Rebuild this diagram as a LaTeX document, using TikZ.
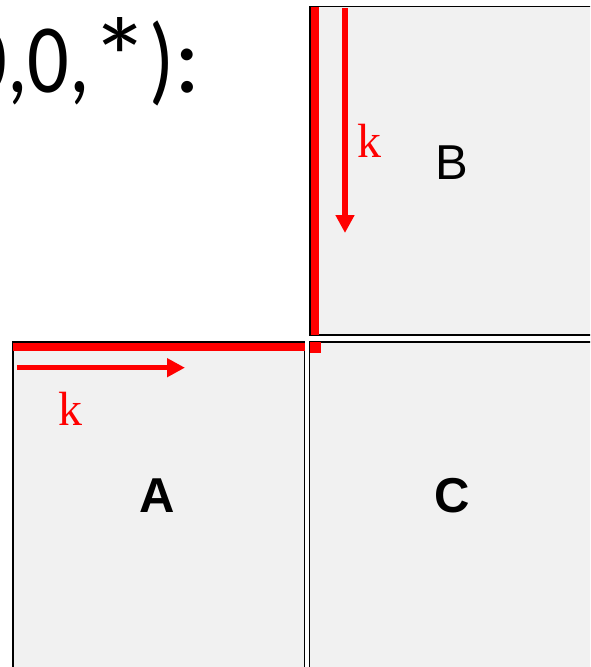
\documentclass[tikz,border=0pt]{standalone}
\usepackage{fontspec}
\setmainfont{Liberation Sans}
\newfontfamily\titlefont{Carlito}
\newfontfamily\kfont{Liberation Serif}
\usetikzlibrary{arrows.meta}
\definecolor{boxfill}{RGB}{241,241,241}
\definecolor{kred}{RGB}{255,0,0}
\tikzset{
  mat/.style={fill=boxfill, draw=black, line width=1.5pt},
  redbar/.style={draw=kred, line width=8pt},
  karrow/.style={draw=kred, line width=5.5pt, -{Triangle[length=18pt,width=18pt]}},
  klabel/.style={text=kred, font=\kfont\fontsize{48}{48}\selectfont, inner sep=0pt},
  matlabel/.style={font=\fontsize{49}{49}\selectfont, inner sep=0pt},
}
\begin{document}
\begin{tikzpicture}[x=1pt,y=-1pt]
\clip (0,0) rectangle (590,667);
\fill[white] (0,0) rectangle (590,667);
% matrices
\draw[mat] (310,6.5) rectangle (600,335);
\draw[mat] (13,342) rectangle (304.5,680);
\draw[mat] (309.5,342) rectangle (600,680);
% red bars
\coordinate (bTop) at (315,7);
\coordinate (bBot) at (315,335);
\draw[redbar] (bTop) -- (bBot);
\coordinate (aL) at (13,346.7);
\coordinate (aR) at (305,346.7);
\draw[redbar] (aL) -- (aR);
\fill[kred] (310,342) rectangle (321,352.5);
% arrows
\coordinate (kb1) at (345,8);
\coordinate (kb2) at (345,233);
\draw[karrow] (kb1) -- (kb2);
\coordinate (ka1) at (17,367.7);
\coordinate (ka2) at (185,367.7);
\draw[karrow] (ka1) -- (ka2);
% labels
\node[klabel] (kB) at (369,140.5) {k};
\node[klabel] (kA) at (70,408.5) {k};
\node[matlabel] (B) at (452,163) {B};
\node[matlabel, font=\bfseries\fontsize{49}{49}\selectfont] (A) at (157.5,495.5) {A};
\node[matlabel, font=\bfseries\fontsize{49}{49}\selectfont] (C) at (452,495.5) {C};
% title
\node[anchor=base east, inner sep=0pt, font=\titlefont\fontsize{98}{98}\selectfont] (title) at (201,92) {\scalebox{0.84}[1]{0,0,\raisebox{-0.06em}{\scalebox{1.45}[1.15]{*}})}:};
\end{tikzpicture}
\end{document}
